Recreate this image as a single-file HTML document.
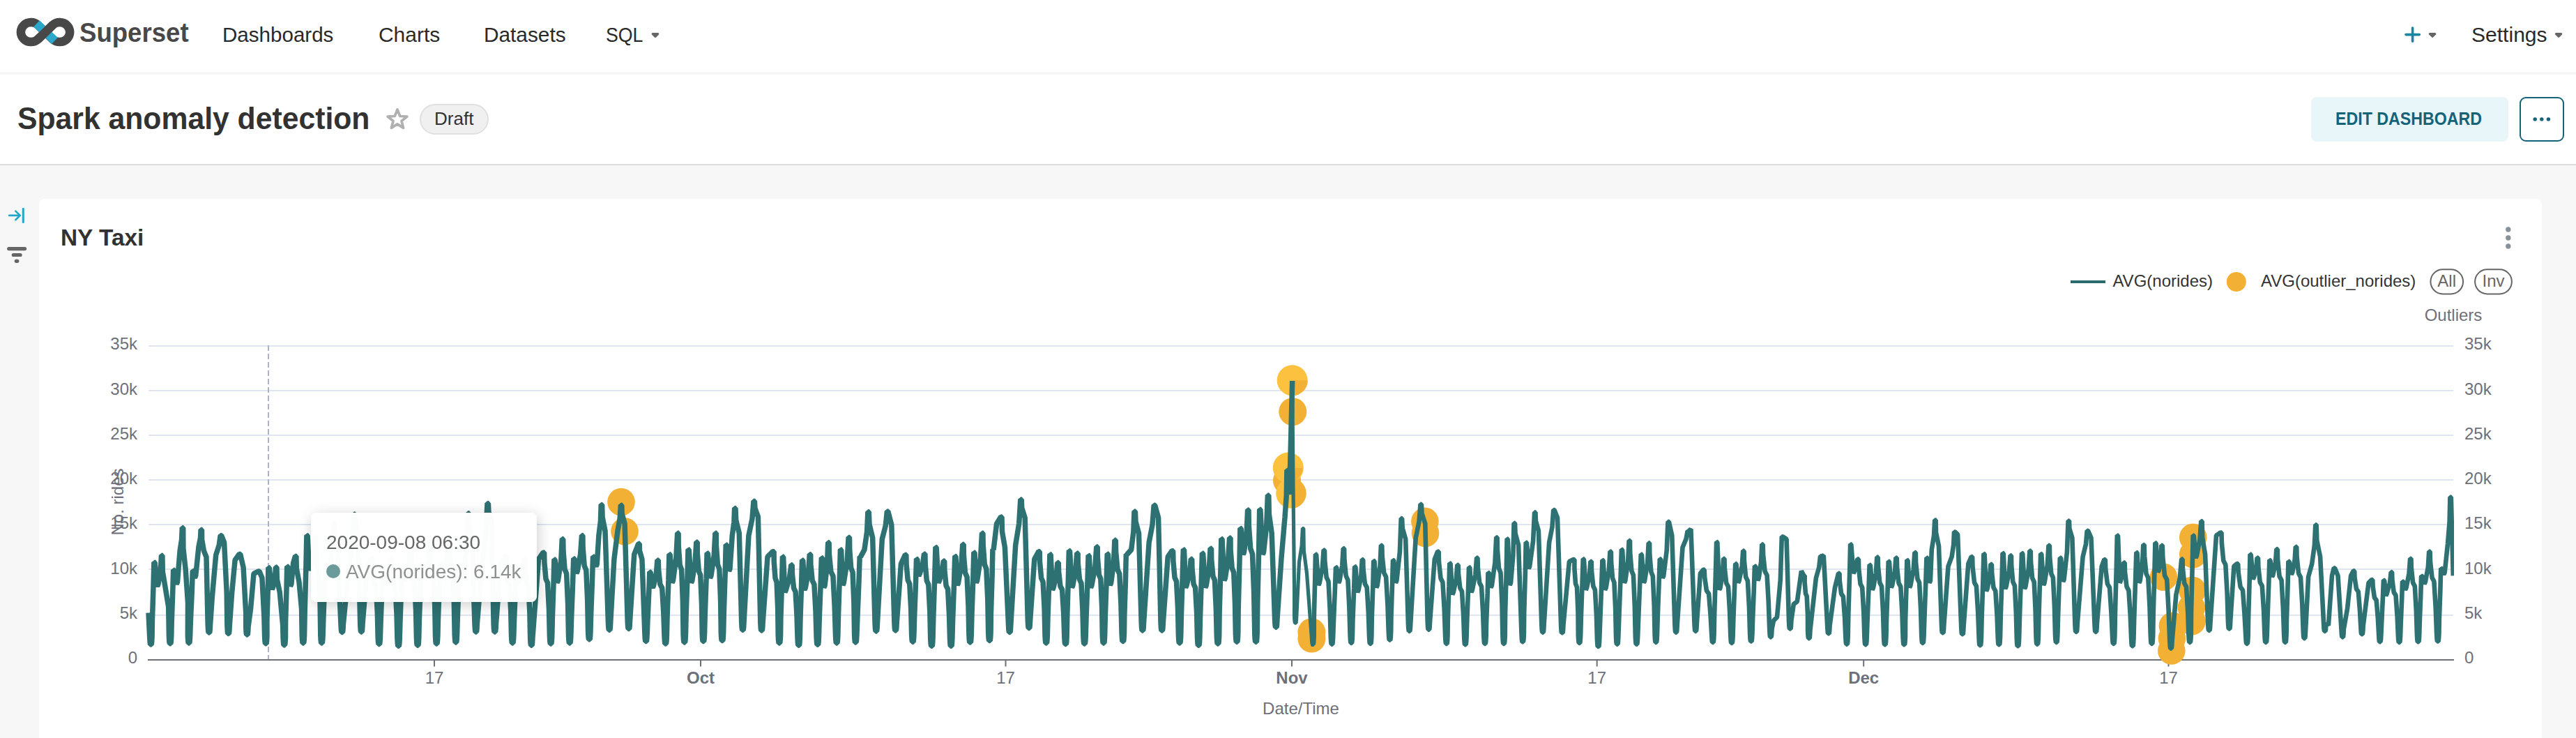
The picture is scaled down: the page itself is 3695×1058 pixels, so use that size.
<!DOCTYPE html>
<html lang="en"><head><meta charset="utf-8"><title>Spark anomaly detection</title>
<style>
*{box-sizing:border-box;margin:0;padding:0}
html,body{width:3695px;height:1058px;overflow:hidden;background:#F7F7F7;font-family:"Liberation Sans",sans-serif}
.abs{position:absolute}
.tx{position:absolute;white-space:nowrap;line-height:1;transform-origin:0 50%;display:inline-block}
nav{position:absolute;left:0;top:0;width:3695px;height:103px;background:#fff}
header{position:absolute;left:0;top:107px;width:3695px;height:130px;background:#fff;border-bottom:2px solid #DEDEDE}
main{position:absolute;left:0;top:237px;width:3695px;height:821px;background:#F7F7F7}
.card{position:absolute;left:56px;top:285px;width:3590px;height:773px;background:#fff;border-radius:8px 8px 0 0}
.pill{position:absolute;left:602.3px;top:149px;width:98.5px;height:43.7px;border-radius:22px;background:#F0F0F0;border:2px solid #E0E0E0}
.btn{position:absolute;left:3315px;top:139px;width:283px;height:64px;border-radius:8px;background:#E9F6F9}
.more{position:absolute;left:3614px;top:139px;width:64px;height:64px;border-radius:9px;background:#fff;border:2.5px solid #156378}
svg.ic{position:absolute;left:0;top:0;overflow:visible}
svg.chart{position:absolute;left:0;top:0}
.tip{position:absolute;left:446.3px;top:734.7px;width:323.8px;height:128.4px;border-radius:8px;background:rgba(255,255,255,0.985);border:2px solid rgba(255,255,255,0.985);padding:20px;box-shadow:2px 4px 20px rgba(0,0,0,0.2);font-size:28px;line-height:42px;color:#666;white-space:nowrap;will-change:opacity,transform}
.tip .dot{display:inline-block;width:20px;height:20px;border-radius:50%;background:#6B9A9B;margin-right:8px;vertical-align:baseline;position:relative;top:0px}
.tip .v{color:#909090}
</style></head><body>
<nav></nav>
<header></header>
<main></main>
<div class="card"></div>
<div class="pill"></div><div class="btn"></div><div class="more"></div>
<svg class="chart" width="3695" height="1058" viewBox="0 0 3695 1058" font-family='"Liberation Sans", sans-serif' font-size="24">
<rect x="213" y="495" width="3306" height="2" fill="#E0E6F1"/>
<rect x="213" y="559" width="3306" height="2" fill="#E0E6F1"/>
<rect x="213" y="623" width="3306" height="2" fill="#E0E6F1"/>
<rect x="213" y="687" width="3306" height="2" fill="#E0E6F1"/>
<rect x="213" y="751" width="3306" height="2" fill="#E0E6F1"/>
<rect x="213" y="815" width="3306" height="2" fill="#E0E6F1"/>
<rect x="213" y="881" width="3306" height="2" fill="#E0E6F1"/>
<text x="197" y="501.3" text-anchor="end" fill="#6E7079">35k</text>
<text x="3535" y="501.3" fill="#6E7079">35k</text>
<text x="197" y="565.6" text-anchor="end" fill="#6E7079">30k</text>
<text x="3535" y="565.6" fill="#6E7079">30k</text>
<text x="197" y="629.9" text-anchor="end" fill="#6E7079">25k</text>
<text x="3535" y="629.9" fill="#6E7079">25k</text>
<text x="197" y="694.2" text-anchor="end" fill="#6E7079">20k</text>
<text x="3535" y="694.2" fill="#6E7079">20k</text>
<text x="197" y="758.4" text-anchor="end" fill="#6E7079">15k</text>
<text x="3535" y="758.4" fill="#6E7079">15k</text>
<text x="197" y="822.7" text-anchor="end" fill="#6E7079">10k</text>
<text x="3535" y="822.7" fill="#6E7079">10k</text>
<text x="197" y="887.0" text-anchor="end" fill="#6E7079">5k</text>
<text x="3535" y="887.0" fill="#6E7079">5k</text>
<text x="197" y="951.3" text-anchor="end" fill="#6E7079">0</text>
<text x="3535" y="951.3" fill="#6E7079">0</text>
<text x="3519" y="460" text-anchor="middle" fill="#6E7079">Outliers</text>
<text x="1866" y="1024.3" text-anchor="middle" fill="#6E7079">Date/Time</text>
<text transform="translate(177 719.5) rotate(-90)" text-anchor="middle" fill="#6E7079">No. rides</text>
<line x1="385" y1="495" x2="385" y2="946" stroke="#AEB3C1" stroke-width="2" stroke-dasharray="8 4"/>
<rect x="212" y="945" width="3308" height="2" fill="#6E7079"/>
<rect x="622.0" y="946" width="2" height="9.5" fill="#6E7079"/>
<text x="623.0" y="979.8" text-anchor="middle" fill="#6E7079">17</text>
<rect x="1004.0" y="946" width="2" height="9.5" fill="#6E7079"/>
<text x="1005.0" y="979.8" text-anchor="middle" fill="#6E7079" font-weight="700">Oct</text>
<rect x="1441.5" y="946" width="2" height="9.5" fill="#6E7079"/>
<text x="1442.5" y="979.8" text-anchor="middle" fill="#6E7079">17</text>
<rect x="1852.0" y="946" width="2" height="9.5" fill="#6E7079"/>
<text x="1853.0" y="979.8" text-anchor="middle" fill="#6E7079" font-weight="700">Nov</text>
<rect x="2289.7" y="946" width="2" height="9.5" fill="#6E7079"/>
<text x="2290.7" y="979.8" text-anchor="middle" fill="#6E7079">17</text>
<rect x="2672.2" y="946" width="2" height="9.5" fill="#6E7079"/>
<text x="2673.2" y="979.8" text-anchor="middle" fill="#6E7079" font-weight="700">Dec</text>
<rect x="3109.5" y="946" width="2" height="9.5" fill="#6E7079"/>
<text x="3110.5" y="979.8" text-anchor="middle" fill="#6E7079">17</text>
<circle cx="891.0" cy="719.6" r="19.8" fill="#F2B135"/>
<circle cx="896.0" cy="761.7" r="19.8" fill="#F2B135"/>
<circle cx="1854.3" cy="590.2" r="20.0" fill="#F2B135"/>
<circle cx="1846.0" cy="689.0" r="20.0" fill="#F2B135"/>
<circle cx="1881.4" cy="906.3" r="20.0" fill="#F2B135"/>
<circle cx="1881.4" cy="915.6" r="20.0" fill="#F2B135"/>
<circle cx="2043.9" cy="747.4" r="19.8" fill="#F2B135"/>
<circle cx="2044.5" cy="764.4" r="19.8" fill="#F2B135"/>
<circle cx="3103.4" cy="827.3" r="19.8" fill="#F2B135"/>
<circle cx="3145.7" cy="770.4" r="19.8" fill="#F2B135"/>
<circle cx="3145.7" cy="794.8" r="19.8" fill="#F2B135"/>
<circle cx="3144.7" cy="846.2" r="19.8" fill="#F2B135"/>
<circle cx="3143.4" cy="871.2" r="19.8" fill="#F2B135"/>
<circle cx="3144.0" cy="890.7" r="19.8" fill="#F2B135"/>
<circle cx="3116.4" cy="897.2" r="19.8" fill="#F2B135"/>
<circle cx="3115.4" cy="915.0" r="19.8" fill="#F2B135"/>
<circle cx="3114.8" cy="933.0" r="19.8" fill="#F2B135"/>
<circle cx="1853.7" cy="545.3" r="22.0" fill="#FCC13E"/>
<circle cx="1847.8" cy="670.5" r="22.0" fill="#FCC13E"/>
<circle cx="1851.7" cy="707.2" r="21.5" fill="#FCC13E"/>
<path d="M1853.7 545.3 h22 a22 22 0 0 1 -22 22z" fill="#F2B135"/>
<clipPath id="dq"><rect x="1853.7" y="671" width="60" height="100"/></clipPath>
<g clip-path="url(#dq)" fill="#F2B135"><circle cx="1847.8" cy="670.5" r="20.5"/><circle cx="1851.7" cy="707.2" r="22"/></g>
<clipPath id="gc"><rect x="209" y="470" width="3311" height="490"/></clipPath>
<g clip-path="url(#gc)" fill="none" stroke="#2E7172" stroke-linejoin="bevel" stroke-linecap="butt">
<path d="M1853.7 546.0 L1855.0 700.0 L1856.6 850.0 L1856.5 882.5 L1856.9 889.5 L1857.4 893.1 L1859.0 893.1 L1859.5 889.0 L1859.9 881.5 L1863.5 806.0 L1867.1 782.7 L1868.4 757.3 L1869.8 757.5 L1870.3 789.5 L1874.5 822.0 L1881.3 913.0 L1881.7 920.0 L1882.2 923.6" stroke-width="5.2"/>
<circle cx="1882.6" cy="924.5" r="2.6" fill="#2E7172" stroke="none"/>
<path d="M213.0 878.5 L214.7 913.4 L215.1 920.4 L215.6 924.0 L217.2 924.0 L217.7 919.9 L218.1 912.4 L218.4 890.1 L220.0 840.3 L220.9 806.0 L222.1 806.4 L225.6 840.3 L227.0 837.3 L230.3 817.5 L231.5 796.3 L232.9 796.5 L233.3 819.3 L237.3 843.3 L241.7 870.1 L242.4 912.2 L242.8 919.2 L243.3 922.8 L244.9 922.8 L245.4 918.7 L245.8 911.2 L246.2 892.6 L247.8 847.7 L248.6 817.1 L249.8 817.5 L253.1 837.3 L254.5 834.3 L258.1 789.6 L260.6 773.3 L261.3 756.4 L262.7 756.6 L262.9 786.1 L266.2 816.5 L269.5 864.2 L269.3 911.3 L269.7 918.3 L270.2 921.9 L271.8 921.9 L272.3 917.8 L272.7 910.3 L273.3 892.2 L275.3 848.1 L276.3 818.0 L277.5 818.4 L279.3 828.4 L280.7 825.4 L285.0 783.7 L287.5 771.3 L288.1 759.3 L289.5 759.5 L289.6 773.6 L292.4 789.6 L296.0 798.6 L298.2 896.4 L298.6 903.4 L299.1 907.0 L300.7 907.0 L301.2 902.9 L301.6 895.4 L304.4 855.2 L309.7 795.6 L314.3 781.5 L316.2 767.4 L317.6 767.6 L321.6 777.7 L325.2 849.3 L325.9 897.9 L326.3 904.9 L326.8 908.5 L328.4 908.5 L328.9 904.4 L329.3 896.9 L332.7 849.3 L337.1 803.0 L343.3 794.2 L344.7 794.4 L349.1 813.5 L352.7 879.1 L352.7 899.4 L353.1 906.4 L353.6 910.0 L355.2 910.0 L355.7 905.9 L356.1 898.4 L359.5 873.1 L364.0 822.4 L370.7 819.0 L372.1 819.2 L375.9 828.4 L378.9 885.0 L379.6 912.2 L380.0 919.2 L380.5 922.8 L382.1 922.8 L382.6 918.7 L383.0 911.2 L382.9 891.5 L384.3 845.2 L384.9 813.5 L386.1 813.9 L390.2 844.8 L391.6 841.8 L394.5 827.4 L395.5 813.0 L396.9 813.2 L397.3 830.4 L401.3 849.3 L405.7 897.0 L406.1 914.3 L406.5 921.3 L407.0 924.9 L408.6 924.9 L409.1 920.8 L409.5 913.3 L409.6 892.5 L411.0 844.8 L411.7 812.0 L412.9 812.4 L416.5 840.3 L417.9 837.3 L420.6 807.5 L423.5 797.2 L424.9 797.4 L425.3 815.0 L429.0 834.4 L432.6 873.1 L433.2 911.3 L433.6 918.3 L434.1 921.9 L435.7 921.9 L436.2 917.8 L436.6 910.3 L437.2 877.1 L438.9 812.7 L439.9 767.5 L441.1 767.9 L443.5 817.4 L444.9 814.4 L449.7 792.6 L451.7 769.1 L453.1 769.3 L453.2 786.7 L455.1 813.8 L457.4 820.2 L459.1 864.7 L459.8 911.3 L460.2 918.3 L460.7 921.9 L462.3 921.9 L462.8 917.8 L463.2 910.3 L463.8 889.1 L465.5 840.8 L466.5 807.6 L467.7 808.0 L470.2 823.9 L471.6 820.9 L474.6 804.6 L477.5 778.0 L478.4 748.5 L479.8 748.7 L480.3 768.8 L484.3 790.4 L489.0 896.0 L489.4 903.0 L489.9 906.6 L491.5 906.6 L492.0 902.5 L492.4 895.0 L500.3 814.5 L505.4 778.2 L507.6 737.0 L509.0 737.2 L509.5 749.2 L513.8 763.4 L516.7 895.3 L517.1 902.3 L517.6 905.9 L519.2 905.9 L519.7 901.8 L520.1 894.3 L526.9 811.0 L533.2 801.2 L534.6 801.4 L534.8 814.9 L536.9 836.8 L539.4 841.9 L541.3 878.0 L542.1 913.0 L542.5 920.0 L543.0 923.6 L544.6 923.6 L545.1 919.5 L545.5 912.0 L546.1 892.2 L547.9 845.8 L548.8 814.0 L550.0 814.4 L552.5 836.7 L553.9 833.7 L558.7 817.7 L560.7 801.2 L562.1 801.4 L562.4 815.2 L564.5 837.6 L567.0 842.9 L569.0 879.7 L569.9 915.7 L570.3 922.7 L570.8 926.3 L572.4 926.3 L572.9 922.2 L573.3 914.7 L573.9 892.9 L575.6 843.9 L576.6 810.1 L577.8 810.5 L580.3 832.9 L581.7 829.9 L586.5 809.8 L588.5 788.4 L589.9 788.6 L590.1 803.9 L592.2 828.3 L594.6 834.0 L596.5 874.2 L597.4 914.7 L597.8 921.7 L598.3 925.3 L599.9 925.3 L600.4 921.2 L600.8 913.7 L601.3 891.4 L603.1 841.8 L604.1 807.6 L605.3 808.0 L607.8 830.3 L609.2 827.3 L614.0 802.6 L616.0 775.5 L617.4 775.7 L617.5 792.4 L619.5 818.6 L621.9 824.7 L623.7 867.8 L624.5 912.3 L624.9 919.3 L625.4 922.9 L627.0 922.9 L627.5 918.8 L627.9 911.3 L628.4 889.8 L630.2 841.1 L631.2 807.6 L632.4 808.0 L634.9 830.3 L636.3 827.3 L641.1 799.7 L643.1 769.1 L644.5 769.3 L644.7 786.6 L646.8 813.5 L649.3 819.8 L651.3 864.1 L652.2 910.3 L652.6 917.3 L653.1 920.9 L654.7 920.9 L655.2 916.8 L655.6 909.3 L656.2 888.3 L658.0 840.5 L658.9 807.6 L660.1 808.0 L662.6 822.6 L664.0 819.6 L667.4 803.3 L670.3 771.5 L671.2 735.7 L672.6 735.9 L673.0 756.0 L677.1 777.6 L681.0 895.3 L681.4 902.3 L681.9 905.9 L683.5 905.9 L684.0 901.8 L684.4 894.3 L691.7 804.9 L696.8 766.0 L699.0 721.5 L700.4 721.7 L700.9 733.8 L705.2 748.0 L708.1 895.3 L708.5 902.3 L709.0 905.9 L710.6 905.9 L711.1 901.8 L711.5 894.3 L718.3 807.1 L724.6 797.4 L726.0 797.6 L726.2 811.3 L728.3 833.6 L730.8 838.8 L732.7 875.5 L733.5 911.3 L733.9 918.3 L734.4 921.9 L736.0 921.9 L736.5 917.8 L736.9 910.3 L737.5 891.0 L739.3 845.3 L740.2 814.0 L741.4 814.4 L743.9 836.7 L745.3 833.7 L750.1 817.7 L752.1 801.2 L753.5 801.4 L753.7 815.1 L755.7 837.3 L758.1 842.5 L759.9 879.1 L760.6 914.7 L761.0 921.7 L761.5 925.3 L763.1 925.3 L763.6 921.2 L764.0 913.7 L772.5 801.6 L779.2 791.9 L780.6 792.1 L780.9 806.6 L783.0 830.0 L785.5 835.5 L787.5 874.0 L788.4 912.3 L788.8 919.3 L789.3 922.9 L790.9 922.9 L791.4 918.8 L791.8 911.3 L792.3 888.1 L794.0 837.1 L794.9 801.9 L796.1 802.3 L799.0 835.5 L800.4 832.5 L804.7 804.1 L806.3 772.5 L807.7 772.7 L808.0 789.7 L810.1 816.2 L812.6 822.4 L814.6 866.1 L815.5 911.3 L815.9 918.3 L816.4 921.9 L818.0 921.9 L818.5 917.8 L818.9 910.3 L819.6 887.0 L821.6 835.9 L822.7 800.6 L823.9 801.0 L826.8 822.0 L828.2 819.0 L832.6 794.4 L834.5 767.5 L835.9 767.7 L836.1 784.6 L838.2 811.1 L840.8 817.3 L842.7 861.0 L843.6 906.2 L844.0 913.2 L844.5 916.8 L846.1 916.8 L846.6 912.7 L847.0 905.2 L847.6 882.6 L849.5 832.5 L850.5 797.9 L851.7 798.3 L854.9 811.8 L856.3 808.8 L858.9 767.8 L861.5 746.4 L862.2 723.4 L863.6 723.6 L864.1 741.5 L868.0 761.0 L872.4 892.6 L872.8 899.6 L873.3 903.2 L874.9 903.2 L875.4 899.1 L875.8 891.6 L880.9 801.6 L886.0 761.0 L889.2 743.0 L890.4 724.1 L891.8 724.3 L892.2 736.5 L896.1 750.8 L900.2 890.9 L900.6 897.9 L901.1 901.5 L902.7 901.5 L903.2 897.4 L903.6 889.9 L909.7 794.9 L915.8 779.3 L917.2 779.5 L917.4 789.4 L920.9 801.6 L924.9 908.9 L925.3 915.9 L925.8 919.5 L927.4 919.5 L927.9 915.4 L928.3 907.9 L928.9 891.1 L930.8 848.7 L931.8 819.9 L933.0 820.3 L936.2 842.3 L937.6 839.3 L941.4 821.6 L942.9 803.0 L944.3 803.2 L944.6 816.4 L946.9 837.8 L949.7 842.9 L951.8 878.3 L953.0 912.3 L953.4 919.3 L953.9 922.9 L955.5 922.9 L956.0 918.8 L956.4 911.3 L957.0 885.8 L958.9 831.9 L959.9 794.5 L961.1 794.9 L964.0 835.5 L965.4 832.5 L969.8 800.3 L971.7 764.1 L973.1 764.3 L973.2 782.2 L975.2 810.0 L977.6 816.5 L979.4 862.2 L980.1 910.3 L980.5 917.3 L981.0 920.9 L982.6 920.9 L983.1 916.8 L983.5 909.3 L984.1 882.4 L986.0 826.6 L987.0 787.7 L988.2 788.1 L991.4 835.5 L992.8 832.5 L997.1 806.1 L998.8 776.9 L1000.2 777.1 L1000.3 793.2 L1002.3 818.6 L1004.7 824.5 L1006.5 866.3 L1007.2 908.9 L1007.6 915.9 L1008.1 919.5 L1009.7 919.5 L1010.2 915.4 L1010.6 907.9 L1011.2 883.0 L1013.1 829.7 L1014.1 792.8 L1015.3 793.2 L1018.5 828.7 L1019.9 825.7 L1024.2 796.6 L1025.9 764.1 L1027.3 764.3 L1027.4 781.9 L1029.4 809.2 L1031.8 815.7 L1033.6 860.7 L1034.3 907.9 L1034.7 914.9 L1035.2 918.5 L1036.8 918.5 L1037.3 914.4 L1037.7 906.9 L1038.3 878.7 L1040.2 821.1 L1041.2 780.9 L1042.4 781.3 L1045.6 818.6 L1047.0 815.6 L1050.3 767.8 L1052.9 748.7 L1053.6 728.5 L1055.0 728.7 L1055.7 745.7 L1060.3 764.4 L1063.7 892.6 L1064.1 899.6 L1064.6 903.2 L1066.2 903.2 L1066.7 899.1 L1067.1 891.6 L1073.9 767.8 L1078.9 744.1 L1081.0 718.3 L1082.4 718.5 L1082.9 728.5 L1087.4 740.7 L1090.8 893.3 L1091.2 900.3 L1091.7 903.9 L1093.3 903.9 L1093.8 899.8 L1094.2 892.3 L1101.0 798.2 L1108.7 790.5 L1110.1 790.7 L1110.2 805.3 L1112.0 828.8 L1114.1 834.3 L1115.7 872.9 L1116.2 911.3 L1116.6 918.3 L1117.1 921.9 L1118.7 921.9 L1119.2 917.8 L1119.6 910.3 L1119.9 886.1 L1121.6 834.0 L1122.4 797.9 L1123.6 798.3 L1125.8 849.1 L1127.2 846.1 L1132.5 828.3 L1134.8 809.8 L1136.2 810.0 L1136.4 822.6 L1138.6 843.3 L1141.1 848.2 L1143.0 882.3 L1144.0 914.7 L1144.4 921.7 L1144.9 925.3 L1146.5 925.3 L1147.0 921.2 L1147.4 913.7 L1147.9 890.0 L1149.6 838.6 L1150.5 802.9 L1151.7 803.3 L1153.9 845.7 L1155.3 842.7 L1159.6 819.6 L1161.3 794.6 L1162.7 794.8 L1162.9 809.2 L1165.2 832.3 L1167.9 837.8 L1170.0 875.9 L1171.1 913.6 L1171.5 920.6 L1172.0 924.2 L1173.6 924.2 L1174.1 920.1 L1174.5 912.6 L1175.2 888.3 L1177.2 835.9 L1178.3 799.5 L1179.5 799.9 L1181.7 842.3 L1183.1 839.3 L1186.5 810.1 L1187.7 777.6 L1189.1 777.8 L1189.4 794.1 L1191.9 819.7 L1194.9 825.8 L1197.1 868.0 L1198.5 911.3 L1198.9 918.3 L1199.4 921.9 L1201.0 921.9 L1201.5 917.8 L1201.9 910.3 L1202.5 883.1 L1204.4 826.9 L1205.4 787.7 L1206.6 788.1 L1208.8 838.9 L1210.2 835.9 L1215.1 804.9 L1217.1 770.2 L1218.5 770.4 L1218.7 787.5 L1220.7 814.2 L1223.1 820.5 L1224.9 864.5 L1225.6 910.3 L1226.0 917.3 L1226.5 920.9 L1228.1 920.9 L1228.6 916.8 L1229.0 909.3 L1229.9 885.4 L1232.0 833.7 L1233.2 797.9 L1234.4 798.3 L1239.9 788.1 L1243.6 762.2 L1244.9 733.6 L1246.3 733.8 L1247.0 751.6 L1251.7 771.1 L1255.1 894.3 L1255.5 901.3 L1256.0 904.9 L1257.6 904.9 L1258.1 900.8 L1258.5 893.3 L1265.3 772.8 L1270.3 753.5 L1272.4 732.9 L1273.8 733.1 L1278.8 752.5 L1282.9 893.3 L1283.3 900.3 L1283.8 903.9 L1285.4 903.9 L1285.9 899.8 L1286.3 892.3 L1292.4 808.4 L1298.4 795.2 L1299.8 795.4 L1300.1 809.2 L1302.2 831.6 L1304.7 836.8 L1306.7 873.6 L1307.6 909.6 L1308.0 916.6 L1308.5 920.2 L1310.1 920.2 L1310.6 916.1 L1311.0 908.6 L1311.6 886.0 L1313.5 835.8 L1314.5 801.2 L1315.7 801.6 L1317.9 825.3 L1319.3 822.3 L1323.7 808.1 L1325.5 793.9 L1326.9 794.1 L1327.2 808.8 L1329.3 832.5 L1331.8 838.0 L1333.8 876.9 L1334.7 915.7 L1335.1 922.7 L1335.6 926.3 L1337.2 926.3 L1337.7 922.2 L1338.1 914.7 L1338.8 885.2 L1340.8 825.8 L1341.9 784.3 L1343.1 784.7 L1346.0 835.5 L1347.4 832.5 L1351.6 818.3 L1353.3 804.0 L1354.7 804.2 L1354.9 817.7 L1357.1 839.6 L1359.6 844.7 L1361.5 880.8 L1362.5 915.7 L1362.9 922.7 L1363.4 926.3 L1365.0 926.3 L1365.5 922.2 L1365.9 914.7 L1366.6 889.0 L1368.6 834.8 L1369.7 797.2 L1370.9 797.6 L1373.1 838.9 L1374.5 835.9 L1378.9 809.5 L1380.8 780.3 L1382.2 780.5 L1382.4 796.3 L1384.5 821.3 L1387.1 827.2 L1389.0 868.4 L1389.9 910.3 L1390.3 917.3 L1390.8 920.9 L1392.4 920.9 L1392.9 916.8 L1393.3 909.3 L1393.9 883.6 L1395.8 829.4 L1396.8 791.8 L1398.0 792.2 L1400.2 835.5 L1401.6 832.5 L1406.5 800.3 L1408.5 764.1 L1409.9 764.3 L1410.2 781.9 L1412.3 809.2 L1414.8 815.7 L1416.8 860.7 L1417.7 907.9 L1418.1 914.9 L1418.6 918.5 L1420.2 918.5 L1420.7 914.4 L1421.1 906.9 L1421.4 880.7 L1423.1 825.8 L1423.9 787.7 L1425.1 788.1 L1429.6 750.8 L1435.6 741.0 L1437.0 741.2 L1437.5 762.2 L1441.4 784.7 L1446.5 896.0 L1446.9 903.0 L1447.4 906.6 L1449.0 906.6 L1449.5 902.5 L1449.9 895.0 L1456.7 781.3 L1461.7 750.5 L1463.8 716.0 L1465.2 716.2 L1465.7 728.2 L1470.2 742.3 L1474.3 889.9 L1474.7 896.9 L1475.2 900.5 L1476.8 900.5 L1477.3 896.4 L1477.7 888.9 L1483.8 801.6 L1489.8 790.5 L1491.2 790.7 L1491.5 805.3 L1493.6 828.8 L1496.1 834.3 L1498.1 872.9 L1499.0 911.3 L1499.4 918.3 L1499.9 921.9 L1501.5 921.9 L1502.0 917.8 L1502.4 910.3 L1503.0 885.1 L1504.9 831.6 L1505.9 794.5 L1507.1 794.9 L1509.6 845.7 L1511.0 842.7 L1515.2 825.0 L1516.9 806.4 L1518.3 806.6 L1518.6 819.4 L1520.9 840.4 L1523.6 845.4 L1525.7 880.0 L1526.8 913.0 L1527.2 920.0 L1527.7 923.6 L1529.3 923.6 L1529.8 919.5 L1530.2 912.0 L1530.7 884.8 L1532.4 828.6 L1533.3 789.4 L1534.5 789.8 L1537.4 842.3 L1538.8 839.3 L1543.0 817.0 L1544.7 792.9 L1546.1 793.1 L1546.3 807.5 L1548.5 830.7 L1551.0 836.2 L1552.9 874.4 L1553.9 912.3 L1554.3 919.3 L1554.8 922.9 L1556.4 922.9 L1556.9 918.8 L1557.3 911.3 L1558.0 886.3 L1560.0 833.1 L1561.1 796.2 L1562.3 796.6 L1564.5 842.3 L1565.9 839.3 L1570.8 812.9 L1572.8 783.7 L1574.2 783.9 L1574.4 799.4 L1576.4 824.0 L1578.8 829.8 L1580.6 870.3 L1581.3 911.3 L1581.7 918.3 L1582.2 921.9 L1583.8 921.9 L1584.3 917.8 L1584.7 910.3 L1585.3 884.9 L1587.2 831.1 L1588.2 793.8 L1589.4 794.2 L1592.2 838.9 L1593.6 835.9 L1597.5 806.8 L1598.9 774.2 L1600.3 774.4 L1600.6 790.9 L1603.0 816.7 L1605.8 822.7 L1607.9 865.2 L1609.1 908.9 L1609.5 915.9 L1610.0 919.5 L1611.6 919.5 L1612.1 915.4 L1612.5 907.9 L1612.8 883.5 L1614.5 830.9 L1615.3 794.5 L1616.5 794.9 L1622.7 788.1 L1625.9 761.9 L1627.0 732.9 L1628.4 733.1 L1629.0 747.8 L1633.5 764.4 L1637.2 893.3 L1637.6 900.3 L1638.1 903.9 L1639.7 903.9 L1640.2 899.8 L1640.6 892.3 L1648.1 777.9 L1653.0 752.3 L1655.2 724.1 L1656.6 724.3 L1661.6 742.3 L1665.0 893.3 L1665.4 900.3 L1665.9 903.9 L1667.5 903.9 L1668.0 899.8 L1668.4 892.3 L1675.2 798.2 L1681.2 789.5 L1682.6 789.7 L1682.9 804.4 L1685.0 828.0 L1687.5 833.6 L1689.5 872.5 L1690.4 911.3 L1690.8 918.3 L1691.3 921.9 L1692.9 921.9 L1693.4 917.8 L1693.8 910.3 L1694.4 883.1 L1696.2 826.9 L1697.3 787.7 L1698.5 788.1 L1700.6 842.3 L1702.0 839.3 L1706.5 820.8 L1708.3 801.3 L1709.7 801.5 L1710.0 815.2 L1712.1 837.4 L1714.6 842.6 L1716.6 879.1 L1717.5 914.7 L1717.9 921.7 L1718.4 925.3 L1720.0 925.3 L1720.5 921.2 L1720.9 913.7 L1721.5 887.0 L1723.3 831.4 L1724.4 792.8 L1725.6 793.2 L1728.8 842.3 L1730.2 839.3 L1734.4 813.9 L1736.1 786.1 L1737.5 786.3 L1737.7 801.6 L1739.9 826.0 L1742.4 831.7 L1744.3 871.8 L1745.3 912.3 L1745.7 919.3 L1746.2 922.9 L1747.8 922.9 L1748.3 918.8 L1748.7 911.3 L1749.1 879.2 L1750.9 816.5 L1751.8 772.4 L1753.0 772.8 L1755.9 832.1 L1757.3 829.1 L1761.7 801.5 L1763.6 770.9 L1765.0 771.1 L1765.1 788.0 L1767.2 814.5 L1769.7 820.7 L1771.5 864.4 L1772.4 909.6 L1772.8 916.6 L1773.3 920.2 L1774.9 920.2 L1775.4 916.1 L1775.8 908.6 L1776.2 872.8 L1778.0 805.0 L1778.9 757.2 L1780.1 757.6 L1783.0 794.9 L1784.4 791.9 L1788.2 763.0 L1789.6 730.9 L1791.0 731.1 L1791.3 753.2 L1793.7 786.5 L1796.5 794.3 L1798.6 849.2 L1799.8 909.6 L1800.2 916.6 L1800.7 920.2 L1802.3 920.2 L1802.8 916.1 L1803.2 908.6 L1803.8 864.6 L1805.7 786.0 L1806.7 730.1 L1807.9 730.5 L1811.1 794.9 L1812.5 791.9 L1816.7 753.6 L1818.4 709.9 L1819.8 710.1 L1820.3 736.7 L1824.2 764.4 L1828.6 888.6 L1829.0 895.6 L1829.5 899.2 L1831.1 899.2 L1831.6 895.1 L1832.0 887.6 L1838.0 800.0 L1843.0 742.0 L1845.3 710.0 L1845.9 674.1 L1847.3 674.3 L1847.3 690.8 L1849.6 709.0 L1853.7 546.0" stroke-width="7.5"/>
<path d="M1882.2 923.6 L1883.8 923.6 L1884.3 919.5 L1884.7 912.0 L1884.8 886.3 L1886.2 832.1 L1886.9 794.5 L1888.1 794.9 L1891.3 838.9 L1892.7 835.9 L1896.9 813.2 L1898.6 788.5 L1900.0 788.7 L1900.3 803.8 L1902.7 827.8 L1905.5 833.5 L1907.6 873.2 L1908.8 913.0 L1909.2 920.0 L1909.7 923.6 L1911.3 923.6 L1911.8 919.5 L1912.2 912.0 L1912.9 891.9 L1914.9 845.2 L1916.0 813.1 L1917.2 813.5 L1920.1 835.5 L1921.5 832.5 L1925.3 810.2 L1926.7 786.1 L1928.1 786.3 L1928.4 801.5 L1930.7 825.7 L1933.4 831.4 L1935.4 871.2 L1936.6 911.3 L1937.0 918.3 L1937.5 921.9 L1939.1 921.9 L1939.6 917.8 L1940.0 910.3 L1940.4 890.4 L1942.2 843.9 L1943.1 812.1 L1944.3 812.5 L1947.2 849.1 L1948.6 846.1 L1952.4 824.8 L1953.8 802.0 L1955.2 802.2 L1955.5 815.5 L1957.9 837.1 L1960.7 842.2 L1962.8 877.9 L1964.0 912.3 L1964.4 919.3 L1964.9 922.9 L1966.5 922.9 L1967.0 918.8 L1967.4 911.3 L1967.7 888.7 L1969.4 838.6 L1970.2 803.9 L1971.4 804.3 L1974.3 842.3 L1975.7 839.3 L1979.5 812.0 L1980.9 781.7 L1982.3 781.9 L1982.7 797.1 L1985.2 821.3 L1988.1 827.0 L1990.4 866.8 L1991.8 906.9 L1992.2 913.9 L1992.7 917.5 L1994.3 917.5 L1994.8 913.4 L1995.2 905.9 L1995.5 884.6 L1997.1 836.2 L1998.0 802.9 L1999.2 803.3 L2002.0 835.5 L2003.4 832.5 L2007.9 790.9 L2009.7 743.1 L2011.1 743.3 L2011.7 757.1 L2016.2 772.8 L2019.9 894.3 L2020.3 901.3 L2020.8 904.9 L2022.4 904.9 L2022.9 900.8 L2023.3 893.3 L2030.7 771.1 L2035.5 748.0 L2037.5 722.7 L2038.9 722.9 L2039.5 735.9 L2044.3 750.8 L2047.7 892.0 L2048.1 899.0 L2048.6 902.6 L2050.2 902.6 L2050.7 898.5 L2051.1 891.0 L2057.8 801.6 L2062.2 790.5 L2063.6 790.7 L2064.0 805.5 L2066.5 829.1 L2069.4 834.6 L2071.7 873.5 L2073.1 912.3 L2073.5 919.3 L2074.0 922.9 L2075.6 922.9 L2076.1 918.8 L2076.5 911.3 L2076.8 889.7 L2078.4 840.9 L2079.3 807.3 L2080.5 807.7 L2083.3 852.4 L2084.7 849.4 L2088.8 830.2 L2090.3 809.8 L2091.7 810.0 L2092.0 822.4 L2094.3 843.0 L2097.0 847.8 L2099.1 881.7 L2100.2 913.6 L2100.6 920.6 L2101.1 924.2 L2102.7 924.2 L2103.2 920.1 L2103.6 912.6 L2104.2 892.4 L2106.0 845.4 L2107.0 813.1 L2108.2 813.5 L2110.4 849.1 L2111.8 846.1 L2116.3 823.8 L2118.1 799.6 L2119.5 799.8 L2119.8 813.4 L2122.2 835.5 L2125.0 840.7 L2127.1 877.0 L2128.3 912.3 L2128.7 919.3 L2129.2 922.9 L2130.8 922.9 L2131.3 918.8 L2131.7 911.3 L2132.0 893.8 L2133.7 850.4 L2134.5 820.9 L2135.7 821.3 L2138.5 842.3 L2139.9 839.3 L2144.4 806.8 L2146.2 770.2 L2147.6 770.4 L2147.9 787.8 L2150.0 814.8 L2152.5 821.2 L2154.5 865.8 L2155.4 912.3 L2155.8 919.3 L2156.3 922.9 L2157.9 922.9 L2158.4 918.8 L2158.8 911.3 L2159.1 879.2 L2160.8 816.5 L2161.6 772.4 L2162.8 772.8 L2165.6 838.9 L2167.0 835.9 L2170.4 795.8 L2171.6 749.8 L2173.0 750.0 L2173.6 764.7 L2178.1 781.3 L2182.5 909.6 L2182.9 916.6 L2183.4 920.2 L2185.0 920.2 L2185.5 916.1 L2185.9 908.6 L2186.2 878.9 L2187.9 819.2 L2188.7 777.5 L2189.9 777.9 L2192.7 815.2 L2194.1 812.2 L2199.1 775.7 L2201.1 734.3 L2202.5 734.5 L2202.9 746.7 L2206.9 761.0 L2211.3 896.0 L2211.7 903.0 L2212.2 906.6 L2213.8 906.6 L2214.3 902.5 L2214.7 895.0 L2222.1 777.9 L2226.5 755.4 L2228.2 730.9 L2229.6 731.1 L2234.0 742.3 L2239.1 896.7 L2239.5 903.7 L2240.0 907.3 L2241.6 907.3 L2242.1 903.2 L2242.5 895.7 L2250.9 805.0 L2257.0 802.0 L2258.4 802.2 L2258.4 815.3 L2260.0 836.8 L2262.0 841.9 L2263.5 877.3 L2263.8 911.3 L2264.2 918.3 L2264.7 921.9 L2266.3 921.9 L2266.8 917.8 L2267.2 910.3 L2267.8 887.2 L2269.6 836.3 L2270.7 801.2 L2271.9 801.6 L2274.7 845.7 L2276.1 842.7 L2279.9 824.2 L2281.4 804.7 L2282.8 804.9 L2283.0 818.4 L2285.3 840.2 L2287.9 845.4 L2289.9 881.4 L2290.9 916.4 L2291.3 923.4 L2291.8 927.0 L2293.4 927.0 L2293.9 922.9 L2294.3 915.4 L2295.2 891.2 L2297.2 839.1 L2298.4 802.9 L2299.6 803.3 L2302.2 845.7 L2303.6 842.7 L2307.8 817.8 L2309.5 790.5 L2310.9 790.7 L2311.1 805.5 L2313.1 829.3 L2315.4 834.9 L2317.2 873.9 L2318.0 913.0 L2318.4 920.0 L2318.9 923.6 L2320.5 923.6 L2321.0 919.5 L2321.4 912.0 L2322.4 884.3 L2324.6 827.4 L2325.9 787.7 L2327.1 788.1 L2329.9 835.5 L2331.3 832.5 L2335.2 805.2 L2336.6 774.9 L2338.0 775.1 L2338.2 792.0 L2340.4 818.4 L2342.9 824.6 L2344.8 868.0 L2345.8 913.0 L2346.2 920.0 L2346.7 923.6 L2348.3 923.6 L2348.8 919.5 L2349.2 912.0 L2350.2 886.3 L2352.4 832.1 L2353.7 794.5 L2354.9 794.9 L2357.7 835.5 L2359.1 832.5 L2363.2 806.7 L2364.7 778.3 L2366.1 778.5 L2366.3 794.6 L2368.4 819.9 L2370.8 825.9 L2372.7 867.6 L2373.6 910.3 L2374.0 917.3 L2374.5 920.9 L2376.1 920.9 L2376.6 916.8 L2377.0 909.3 L2377.7 886.4 L2379.6 836.0 L2380.8 801.2 L2382.0 801.6 L2384.8 828.7 L2386.2 825.7 L2390.7 789.3 L2392.5 747.8 L2393.9 748.0 L2398.3 767.8 L2402.4 896.0 L2402.8 903.0 L2403.3 906.6 L2404.9 906.6 L2405.4 902.5 L2405.8 895.0 L2413.5 784.7 L2418.5 772.8 L2420.6 761.4 L2422.0 761.6 L2425.4 758.3 L2430.5 894.3 L2430.9 901.3 L2431.4 904.9 L2433.0 904.9 L2433.5 900.8 L2433.9 893.3 L2438.9 822.0 L2443.3 816.6 L2444.7 816.8 L2445.2 827.9 L2447.9 846.7 L2451.1 851.1 L2453.6 882.2 L2455.2 910.3 L2455.6 917.3 L2456.1 920.9 L2457.7 920.9 L2458.2 916.8 L2458.6 909.3 L2459.2 879.1 L2461.0 819.0 L2462.1 776.8 L2463.3 777.2 L2466.1 845.7 L2467.5 842.7 L2470.9 822.4 L2472.1 800.7 L2473.5 800.9 L2473.8 814.2 L2476.2 835.9 L2479.0 841.0 L2481.1 876.7 L2482.3 911.3 L2482.7 918.3 L2483.2 921.9 L2484.8 921.9 L2485.3 917.8 L2485.7 910.3 L2486.3 889.2 L2488.1 841.1 L2489.2 808.0 L2490.4 808.4 L2493.2 835.5 L2494.6 832.5 L2498.7 811.7 L2500.2 789.5 L2501.6 789.7 L2501.9 804.1 L2504.2 827.3 L2506.9 832.8 L2509.0 871.0 L2510.1 908.9 L2510.5 915.9 L2511.0 919.5 L2512.6 919.5 L2513.1 915.4 L2513.5 907.9 L2514.1 888.6 L2515.9 842.8 L2516.9 811.4 L2518.1 811.8 L2521.3 832.1 L2522.7 829.1 L2526.1 805.8 L2527.3 780.3 L2528.7 780.5 L2529.1 795.4 L2531.6 819.1 L2534.6 824.7 L2536.8 863.8 L2538.2 902.8 L2538.6 909.8 L2539.1 913.4 L2540.7 913.4 L2541.2 909.3 L2541.6 901.8 L2544.0 889.7 L2549.0 884.6 L2553.8 831.3 L2555.8 769.2 L2557.2 769.4 L2562.6 772.8 L2566.0 890.9 L2566.4 897.9 L2566.9 901.5 L2568.5 901.5 L2569.0 897.4 L2569.4 889.9 L2572.8 866.0 L2577.8 862.6 L2583.9 818.6 L2587.3 825.1 L2588.7 825.3 L2588.6 834.5 L2590.0 850.9 L2591.7 854.8 L2593.0 881.8 L2593.1 904.5 L2593.5 911.5 L2594.0 915.1 L2595.6 915.1 L2596.1 911.0 L2596.5 903.5 L2604.9 828.7 L2609.3 813.2 L2611.0 797.3 L2612.4 797.5 L2615.8 796.5 L2621.2 897.7 L2621.6 904.7 L2622.1 908.3 L2623.7 908.3 L2624.2 904.2 L2624.6 896.7 L2632.0 842.3 L2637.1 821.7 L2638.5 821.9 L2638.8 832.7 L2641.1 851.1 L2643.9 855.4 L2646.1 885.8 L2647.3 913.0 L2647.7 920.0 L2648.2 923.6 L2649.8 923.6 L2650.3 919.5 L2650.7 912.0 L2651.3 882.0 L2653.1 822.2 L2654.1 780.2 L2655.3 780.6 L2658.5 822.0 L2659.9 819.0 L2664.5 801.3 L2665.9 801.5 L2666.2 815.1 L2668.5 837.1 L2671.2 842.2 L2673.3 878.5 L2674.4 913.6 L2674.8 920.6 L2675.3 924.2 L2676.9 924.2 L2677.4 920.1 L2677.8 912.6 L2678.5 891.4 L2680.5 843.0 L2681.6 809.7 L2682.8 810.1 L2685.6 845.7 L2687.0 842.7 L2690.9 821.5 L2692.3 798.6 L2693.7 798.8 L2694.0 812.7 L2696.3 835.2 L2699.0 840.4 L2701.0 877.4 L2702.1 913.6 L2702.5 920.6 L2703.0 924.2 L2704.6 924.2 L2705.1 920.1 L2705.5 912.6 L2706.0 889.8 L2707.8 839.4 L2708.7 804.6 L2709.9 805.0 L2712.7 842.3 L2714.1 839.3 L2718.0 820.0 L2719.4 799.6 L2720.8 799.8 L2721.1 813.6 L2723.5 835.9 L2726.3 841.1 L2728.4 877.8 L2729.6 913.6 L2730.0 920.6 L2730.5 924.2 L2732.1 924.2 L2732.6 920.1 L2733.0 912.6 L2733.1 889.3 L2734.6 838.2 L2735.3 802.9 L2736.5 803.3 L2739.0 842.3 L2740.4 839.3 L2744.7 816.5 L2746.4 791.9 L2747.8 792.1 L2748.1 806.5 L2750.4 829.7 L2753.1 835.2 L2755.1 873.4 L2756.2 911.3 L2756.6 918.3 L2757.1 921.9 L2758.7 921.9 L2759.2 917.8 L2759.6 910.3 L2760.4 886.7 L2762.3 835.2 L2763.4 799.5 L2764.6 799.9 L2767.5 835.5 L2768.9 832.5 L2770.8 788.1 L2774.1 767.5 L2775.2 745.4 L2776.6 745.6 L2777.0 763.5 L2781.0 783.0 L2785.0 896.7 L2785.4 903.7 L2785.9 907.3 L2787.5 907.3 L2788.0 903.2 L2788.4 895.7 L2794.5 811.8 L2799.6 798.2 L2802.2 780.7 L2803.0 762.4 L2804.4 762.6 L2808.1 766.1 L2813.2 898.7 L2813.6 905.7 L2814.1 909.3 L2815.7 909.3 L2816.2 905.2 L2816.6 897.7 L2823.3 808.4 L2827.7 798.0 L2829.1 798.2 L2829.5 812.2 L2832.0 835.0 L2834.9 840.3 L2837.2 877.8 L2838.6 914.7 L2839.0 921.7 L2839.5 925.3 L2841.1 925.3 L2841.6 921.2 L2842.0 913.7 L2842.6 887.3 L2844.4 832.1 L2845.4 793.8 L2846.6 794.2 L2849.1 847.4 L2850.5 844.4 L2854.1 827.0 L2855.5 808.8 L2856.9 809.0 L2857.2 821.5 L2859.5 842.3 L2862.3 847.2 L2864.5 881.3 L2865.7 913.6 L2866.1 920.6 L2866.6 924.2 L2868.2 924.2 L2868.7 920.1 L2869.1 912.6 L2869.7 886.3 L2871.5 831.1 L2872.5 792.8 L2873.7 793.2 L2876.2 844.0 L2877.6 841.0 L2881.9 819.5 L2883.6 796.3 L2885.0 796.5 L2885.2 810.9 L2887.3 834.1 L2889.9 839.6 L2891.8 877.8 L2892.8 915.7 L2893.2 922.7 L2893.7 926.3 L2895.3 926.3 L2895.8 922.2 L2896.2 914.7 L2896.9 887.7 L2898.8 831.7 L2900.0 792.8 L2901.2 793.2 L2904.0 844.0 L2905.4 841.0 L2909.7 816.4 L2911.4 789.5 L2912.8 789.7 L2913.0 804.7 L2915.1 828.6 L2917.7 834.2 L2919.6 873.5 L2920.5 913.0 L2920.9 920.0 L2921.4 923.6 L2923.0 923.6 L2923.5 919.5 L2923.9 912.0 L2924.4 886.1 L2926.1 831.6 L2927.1 793.8 L2928.3 794.2 L2931.1 838.9 L2932.5 835.9 L2936.8 810.1 L2938.5 781.7 L2939.9 781.9 L2940.1 797.5 L2942.3 822.3 L2944.9 828.1 L2946.9 868.9 L2948.0 910.3 L2948.4 917.3 L2948.9 920.9 L2950.5 920.9 L2951.0 916.8 L2951.4 909.3 L2952.0 885.9 L2953.8 834.9 L2954.8 799.5 L2956.0 799.9 L2959.2 833.8 L2960.6 830.8 L2964.9 791.5 L2966.6 746.5 L2968.0 746.7 L2968.4 757.8 L2972.4 771.1 L2976.4 895.3 L2976.8 902.3 L2977.3 905.9 L2978.9 905.9 L2979.4 901.8 L2979.8 894.3 L2987.6 798.2 L2992.0 779.9 L2993.7 760.7 L2995.1 760.9 L2999.5 771.1 L3004.5 895.3 L3004.9 902.3 L3005.4 905.9 L3007.0 905.9 L3007.5 901.8 L3007.9 894.3 L3014.7 811.8 L3018.4 802.0 L3019.8 802.2 L3020.2 815.5 L3022.9 837.1 L3026.0 842.2 L3028.4 877.9 L3030.0 912.3 L3030.4 919.3 L3030.9 922.9 L3032.5 922.9 L3033.0 918.8 L3033.4 911.3 L3034.0 877.7 L3035.8 812.9 L3036.8 767.4 L3038.0 767.8 L3040.5 835.5 L3041.9 832.5 L3045.1 819.4 L3046.2 806.4 L3047.6 806.6 L3048.0 819.7 L3050.5 841.2 L3053.4 846.3 L3055.7 881.7 L3057.1 915.7 L3057.5 922.7 L3058.0 926.3 L3059.6 926.3 L3060.1 922.2 L3060.5 914.7 L3061.2 887.4 L3063.1 831.0 L3064.3 791.8 L3065.5 792.2 L3068.3 835.5 L3069.7 832.5 L3073.1 807.9 L3074.3 781.0 L3075.7 781.2 L3076.1 797.2 L3078.5 822.4 L3081.3 828.4 L3083.5 869.9 L3084.8 912.3 L3085.2 919.3 L3085.7 922.9 L3087.3 922.9 L3087.8 918.8 L3088.2 911.3 L3088.7 881.0 L3090.4 820.5 L3091.4 778.2 L3092.6 778.6 L3095.4 820.3 L3096.8 817.3 L3099.6 799.9 L3100.4 781.7 L3101.8 781.9 L3102.3 798.7 L3105.0 824.9 L3108.2 831.1 L3110.6 874.4 L3112.3 919.1 L3112.7 926.1 L3113.2 929.7 L3114.8 929.7 L3115.3 925.6 L3115.7 918.1 L3121.4 852.4 L3126.8 828.0 L3129.2 801.3 L3130.6 801.5 L3130.9 814.6 L3133.2 836.0 L3136.0 841.1 L3138.2 876.4 L3139.4 910.3 L3139.8 917.3 L3140.3 920.9 L3141.9 920.9 L3142.4 916.8 L3142.8 909.3 L3143.1 876.3 L3144.7 812.3 L3145.6 767.4 L3146.8 767.8 L3149.6 799.9 L3151.0 796.9 L3155.5 773.1 L3157.3 747.1 L3158.7 747.3 L3159.1 770.5 L3163.1 794.9 L3167.1 893.3 L3167.5 900.3 L3168.0 903.9 L3169.6 903.9 L3170.1 899.8 L3170.5 892.3 L3179.0 767.8 L3185.1 763.4 L3186.5 763.6 L3186.9 779.1 L3189.3 803.7 L3192.3 809.5 L3194.6 850.0 L3195.9 890.9 L3196.3 897.9 L3196.8 901.5 L3198.4 901.5 L3198.9 897.4 L3199.3 889.9 L3204.4 811.8 L3208.8 808.1 L3210.2 808.3 L3210.7 820.8 L3213.6 841.4 L3217.0 846.2 L3219.5 880.2 L3221.3 912.3 L3221.7 919.3 L3222.2 922.9 L3223.8 922.9 L3224.3 918.8 L3224.7 911.3 L3225.1 885.8 L3226.7 831.9 L3227.5 794.5 L3228.7 794.9 L3231.6 830.4 L3233.0 827.4 L3236.4 813.5 L3237.6 799.6 L3239.0 799.8 L3239.4 813.1 L3241.8 834.9 L3244.8 840.0 L3247.1 875.7 L3248.4 910.3 L3248.8 917.3 L3249.3 920.9 L3250.9 920.9 L3251.4 916.8 L3251.8 909.3 L3252.5 887.0 L3254.3 837.2 L3255.3 802.9 L3256.5 803.3 L3259.0 827.0 L3260.4 824.0 L3264.0 806.0 L3265.4 787.1 L3266.8 787.3 L3267.1 802.2 L3269.6 826.1 L3272.6 831.7 L3274.8 871.0 L3276.2 910.3 L3276.6 917.3 L3277.1 920.9 L3278.7 920.9 L3279.2 916.8 L3279.6 909.3 L3280.0 887.5 L3281.6 838.4 L3282.4 804.6 L3283.6 805.0 L3286.8 823.6 L3288.2 820.6 L3291.6 802.6 L3292.8 783.7 L3294.2 783.9 L3294.6 798.5 L3297.1 822.0 L3300.0 827.5 L3302.3 866.1 L3303.7 904.5 L3304.1 911.5 L3304.6 915.1 L3306.2 915.1 L3306.7 911.0 L3307.1 903.5 L3311.1 827.0 L3316.2 808.4 L3319.9 781.7 L3321.3 752.2 L3322.7 752.4 L3323.3 774.7 L3328.1 798.2 L3333.1 894.3 L3333.5 901.3 L3334.0 904.9 L3335.6 904.9 L3336.1 900.8 L3336.5 893.3 L3339.9 896.5 L3345.0 825.3 L3347.7 814.2 L3349.1 814.4 L3353.5 825.3 L3358.5 902.8 L3358.9 909.8 L3359.4 913.4 L3361.0 913.4 L3361.5 909.3 L3361.9 901.8 L3367.0 872.8 L3372.1 825.3 L3375.8 818.3 L3377.2 818.5 L3377.5 827.9 L3380.0 844.4 L3382.8 848.3 L3385.0 875.7 L3386.3 898.7 L3386.7 905.7 L3387.2 909.3 L3388.8 909.3 L3389.3 905.2 L3389.7 897.7 L3397.5 835.5 L3401.9 831.1 L3403.3 831.3 L3403.6 840.5 L3405.9 856.7 L3408.7 860.5 L3410.9 887.3 L3412.1 909.6 L3412.5 916.6 L3413.0 920.2 L3414.6 920.2 L3415.1 916.1 L3415.5 908.6 L3416.1 895.1 L3417.9 857.2 L3418.9 831.7 L3420.1 832.1 L3422.3 854.1 L3423.7 851.1 L3428.0 835.7 L3429.7 820.0 L3431.1 820.2 L3431.4 830.8 L3433.7 849.1 L3436.5 853.4 L3438.6 883.4 L3439.8 910.3 L3440.2 917.3 L3440.7 920.9 L3442.3 920.9 L3442.8 916.8 L3443.2 909.3 L3443.6 896.1 L3445.2 858.6 L3446.0 833.4 L3447.2 833.8 L3450.1 845.7 L3451.5 842.7 L3455.5 822.4 L3457.1 800.7 L3458.5 800.9 L3458.8 813.9 L3461.1 835.4 L3463.8 840.4 L3465.8 875.7 L3466.9 909.6 L3467.3 916.6 L3467.8 920.2 L3469.4 920.2 L3469.9 916.1 L3470.3 908.6 L3470.7 893.3 L3472.3 852.9 L3473.1 825.6 L3474.3 826.0 L3477.5 837.2 L3478.9 834.2 L3482.8 813.1 L3484.2 790.5 L3485.6 790.7 L3486.0 805.0 L3488.5 828.0 L3491.4 833.5 L3493.7 871.4 L3495.1 908.9 L3495.5 915.9 L3496.0 919.5 L3497.6 919.5 L3498.1 915.4 L3498.5 907.9 L3498.8 889.6 L3500.4 845.1 L3501.2 814.8 L3502.4 815.2 L3505.3 823.6 L3506.7 820.6 L3511.0 779.6 L3513.6 748.1 L3514.4 712.6 L3515.8 712.8 L3518.8 825.3" stroke-width="6.6"/>
</g>
<rect x="2970" y="402" width="50" height="4" fill="#2A6C6E"/>
<text x="3030.4" y="411" fill="#333">AVG(norides)</text>
<circle cx="3207.8" cy="404" r="14" fill="#F2B135"/>
<text x="3243" y="411" fill="#333">AVG(outlier_norides)</text>
<rect x="3486.4" y="386.2" width="46.7" height="35.2" rx="17.6" fill="#fff" stroke="#666" stroke-width="2"/>
<text x="3509.7" y="411" text-anchor="middle" fill="#666">All</text>
<rect x="3550.1" y="386.2" width="52.8" height="35.2" rx="17.6" fill="#fff" stroke="#666" stroke-width="2"/>
<text x="3576.6" y="411" text-anchor="middle" fill="#666">Inv</text>
<circle cx="3597.8" cy="329" r="3.7" fill="#879399"/>
<circle cx="3597.8" cy="341" r="3.7" fill="#879399"/>
<circle cx="3597.8" cy="353" r="3.7" fill="#879399"/>
</svg>
<svg class="ic" width="3695" height="1058" viewBox="0 0 3695 1058">
<g fill="none" stroke-width="12.5">
<path d="M54.63 56.17 A14.6 14 0 1 1 54.63 36.03 L75.47 56.17 A14.6 14 0 1 0 75.47 36.03 Z" stroke="#484848"/>
<path d="M52.4 34.0 L78.5 58.4" stroke="#2AA7CA"/>
<path d="M54.0 56.8 L76.1 35.4" stroke="#484848"/>
</g>
<path d="M936.2 48.6 L943.7 48.6 L940.0 52.4 Z" fill="#666" stroke="#666" stroke-width="3.2" stroke-linejoin="round"/>
<path d="M3485.3 48.6 L3492.8 48.6 L3489.1 52.2 Z" fill="#666" stroke="#666" stroke-width="3.2" stroke-linejoin="round"/>
<path d="M3666.4 48.6 L3673.7 48.6 L3670.1 52.2 Z" fill="#666" stroke="#666" stroke-width="3.2" stroke-linejoin="round"/>
<path d="M3451 49.6 H3470.3 M3460.6 40 V59.3" stroke="#1A85A0" stroke-width="3.6" stroke-linecap="round" fill="none"/>
<path d="M570.00 157.00 L573.70 166.50 L583.89 167.09 L575.99 173.55 L578.58 183.41 L570.00 177.90 L561.42 183.41 L564.01 173.55 L556.11 167.09 L566.30 166.50 Z" fill="none" stroke="#B0B0B0" stroke-width="3.7" stroke-linejoin="round"/>
<circle cx="3636.2" cy="170.9" r="2.7" fill="#156378"/>
<circle cx="3645.8" cy="170.9" r="2.7" fill="#156378"/>
<circle cx="3655.4" cy="170.9" r="2.7" fill="#156378"/>
<path d="M13.2 308.9 H28.5 M22.3 302.6 L28.8 308.9 L22.3 315.2" stroke="#20A7C9" stroke-width="2.6" fill="none" stroke-linecap="round" stroke-linejoin="round"/>
<path d="M33.3 299.3 V318.4" stroke="#20A7C9" stroke-width="3" stroke-linecap="round" fill="none"/>
<path d="M12.7 356.6 H35.6 M19.3 365.5 H29.1 M23.3 374.3 H24.8" stroke="#666" stroke-width="5.2" stroke-linecap="round" fill="none"/>
</svg>
<span id="logo" class="tx" style="left:114.3px;top:27.29px;font-size:39px;font-weight:700;color:#484848;transform:scaleX(0.9383)">Superset</span>
<span id="n1" class="tx" style="left:319.4px;top:36.25px;font-size:29px;font-weight:400;color:#2A2A2A;transform:scaleX(1.0193)">Dashboards</span>
<span id="n2" class="tx" style="left:542.8px;top:36.25px;font-size:29px;font-weight:400;color:#2A2A2A;transform:scaleX(1.0325)">Charts</span>
<span id="n3" class="tx" style="left:694.2px;top:36.25px;font-size:29px;font-weight:400;color:#2A2A2A;transform:scaleX(1.0275)">Datasets</span>
<span id="n4" class="tx" style="left:869.0px;top:36.25px;font-size:29px;font-weight:400;color:#2A2A2A;transform:scaleX(0.9202)">SQL</span>
<span id="n5" class="tx" style="left:3545.0px;top:36.25px;font-size:29px;font-weight:400;color:#2A2A2A;transform:scaleX(1.0363)">Settings</span>
<span id="ttl" class="tx" style="left:24.6px;top:148.05px;font-size:44px;font-weight:700;color:#323232;transform:scaleX(0.9704)">Spark anomaly detection</span>
<span id="drf" class="tx" style="left:622.8px;top:157.64px;font-size:25px;font-weight:400;color:#323232;transform:scaleX(1.0408)">Draft</span>
<span id="edt" class="tx" style="left:3350.4px;top:157.51px;font-size:25.5px;font-weight:700;color:#156378;transform:scaleX(0.9094)">EDIT DASHBOARD</span>
<span id="cht" class="tx" style="left:86.8px;top:325.23px;font-size:32.8px;font-weight:700;color:#323232;transform:scaleX(1.0181)">NY Taxi</span>
<div class="tip"><div>2020-09-08 06:30</div><div><span class="dot"></span><span class="v">AVG(norides): 6.14k</span></div></div>
</body></html>
